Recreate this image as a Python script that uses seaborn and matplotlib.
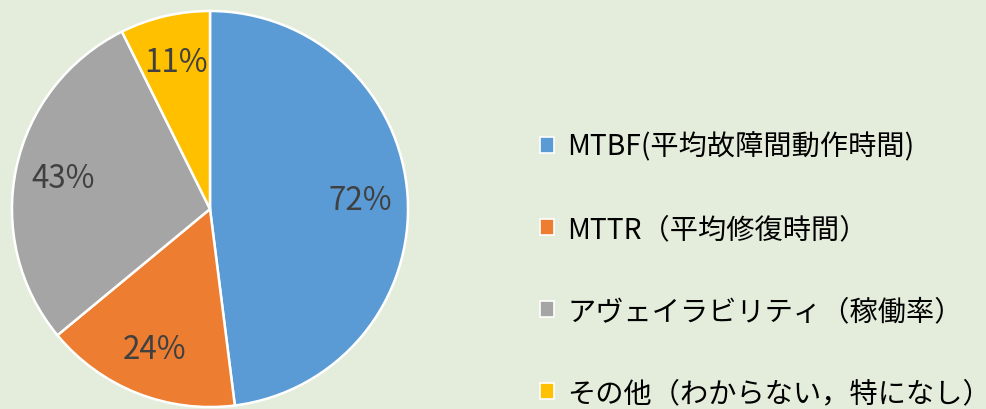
import matplotlib
matplotlib.use('Agg')
import matplotlib.pyplot as plt
import seaborn as sns
from matplotlib.patches import Patch

# survey answers (multiple choice, so percentages do not add up to 100)
labels = ['MTBF(平均故障間動作時間)', 'MTTR（平均修復時間）',
          'アヴェイラビリティ（稼働率）', 'その他（わからない，特になし）']
values = [72, 24, 43, 11]
colors = ['#5B9BD5', '#ED7D31', '#A5A5A5', '#FFC000']

bg = '#E4EDDB'

sns.set_theme(style='white')
plt.rcParams['font.family'] = ['Noto Sans CJK JP', 'DejaVu Sans']

fig = plt.figure(figsize=(9.86, 4.10), dpi=100, facecolor=bg)
ax = fig.add_axes([10 / 986, 0 / 410, 400 / 986, 400 / 410])
ax.set_facecolor(bg)

wedges, texts = ax.pie(
    values,
    colors=colors,
    startangle=90,
    counterclock=False,
    labels=[f'{v}%' for v in values],
    labeldistance=0.76,
    wedgeprops=dict(edgecolor='white', linewidth=1.8),
    textprops=dict(fontsize=22.5, color='#404040'),
)
for t in texts:
    t.set_horizontalalignment('center')
    t.set_verticalalignment('center')

ax.set_xlim(-1.01, 1.01)
ax.set_ylim(-1.01, 1.01)
ax.set_aspect('equal')
ax.axis('off')

handles = [Patch(facecolor=c, edgecolor='white', linewidth=1.2) for c in colors]
fig.legend(handles, labels, loc='center left', bbox_to_anchor=(540 / 986, 139 / 410),
           frameon=False, fontsize=20.3, labelcolor='black',
           handlelength=0.5, handleheight=0.5, handletextpad=0.46,
           labelspacing=1.85, borderaxespad=0, borderpad=0)

fig.savefig('out.png', dpi=100, facecolor=bg)
